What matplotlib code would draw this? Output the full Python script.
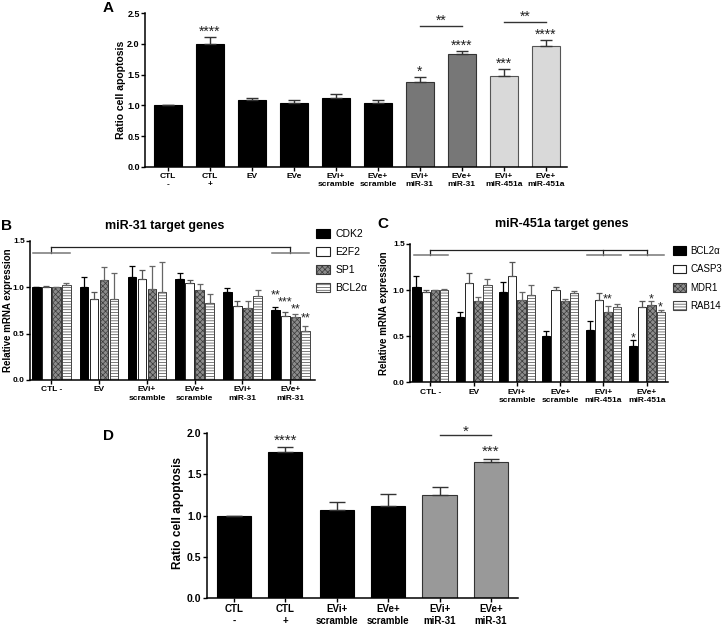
import matplotlib
matplotlib.use('Agg')
import matplotlib.pyplot as plt
import numpy as np
from matplotlib.patches import Patch

plt.rcParams['font.family'] = ['Liberation Sans', 'DejaVu Sans']
plt.rcParams['hatch.linewidth'] = 0.5

# ---------------- data ----------------
# Panel A
catA = ['CTL\n-', 'CTL\n+', 'EV', 'EVe', 'EVi+\nscramble', 'EVe+\nscramble',
        'EVi+\nmiR-31', 'EVe+\nmiR-31', 'EVi+\nmiR-451a', 'EVe+\nmiR-451a']
valA = [1.0, 2.0, 1.086, 1.037, 1.12, 1.04, 1.375, 1.83, 1.473, 1.962]
errA = [0.004, 0.11, 0.03, 0.05, 0.06, 0.05, 0.087, 0.054, 0.114, 0.098]
starsA = ['', '****', '', '', '', '', '*', '****', '***', '****']
pairsA = [(6, 7, '**', 2.296), (8, 9, '**', 2.357)]

# Panel B
catB = ['CTL -', 'EV', 'EVi+\nscramble', 'EVe+\nscramble', 'EVi+\nmiR-31', 'EVe+\nmiR-31']
genesB = ['CDK2', 'E2F2', 'SP1', 'BCL2α']
valB = {
    'CDK2':  [1.0, 1.007, 1.115, 1.094, 0.953, 0.752],
    'E2F2':  [1.0, 0.87, 1.086, 1.043, 0.802, 0.69],
    'SP1':   [1.0, 1.079, 0.986, 0.968, 0.773, 0.676],
    'BCL2α': [1.025, 0.87, 0.946, 0.827, 0.91, 0.525],
}
errB = {
    'CDK2':  [0.004, 0.10, 0.11, 0.06, 0.045, 0.032],
    'E2F2':  [0.01, 0.085, 0.10, 0.035, 0.047, 0.04],
    'SP1':   [0.006, 0.137, 0.24, 0.065, 0.075, 0.035],
    'BCL2α': [0.02, 0.28, 0.33, 0.10, 0.065, 0.055],
}
# (group, gene, label, glyph-centre height)
starsB = [(5, 'CDK2', '**', 0.96), (5, 'E2F2', '***', 0.885),
          (5, 'SP1', '**', 0.806), (5, 'BCL2α', '**', 0.715)]
bracketB = (0, [5], 1.438, 1.373)

# Panel C
catC = ['CTL -', 'EV', 'EVi+\nscramble', 'EVe+\nscramble', 'EVi+\nmiR-451a', 'EVe+\nmiR-451a']
genesC = ['BCL2α', 'CASP3', 'MDR1', 'RAB14']
valC = {
    'BCL2α': [1.033, 0.703, 0.975, 0.507, 0.569, 0.399],
    'CASP3': [0.975, 1.076, 1.156, 1.004, 0.895, 0.815],
    'MDR1':  [1.0, 0.88, 0.888, 0.877, 0.764, 0.837],
    'RAB14': [1.004, 1.054, 0.949, 0.964, 0.815, 0.76],
}
errC = {
    'BCL2α': [0.115, 0.058, 0.115, 0.05, 0.10, 0.058],
    'CASP3': [0.03, 0.11, 0.145, 0.032, 0.072, 0.062],
    'MDR1':  [0.005, 0.044, 0.09, 0.03, 0.062, 0.043],
    'RAB14': [0.005, 0.07, 0.11, 0.025, 0.033, 0.026],
}
starsC = [(4, 'MDR1', '**', 0.94), (5, 'BCL2α', '*', 0.52),
          (5, 'MDR1', '*', 0.95), (5, 'RAB14', '*', 0.86)]
bracketC = (0, [4, 5], 1.43, 1.376)

# Panel D
catD = ['CTL\n-', 'CTL\n+', 'EVi+\nscramble', 'EVe+\nscramble', 'EVi+\nmiR-31', 'EVe+\nmiR-31']
valD = [1.0, 1.772, 1.061, 1.118, 1.252, 1.646]
errD = [0.0, 0.057, 0.10, 0.14, 0.09, 0.04]
starsD = ['', '****', '', '', '', '***']
pairsD = [(4, 5, '*', 1.98)]

# ---------------- figure ----------------
W, H = 726, 625
fig = plt.figure(figsize=(W / 100, H / 100), dpi=100)


def ax_px(x0, x1, ytop, ybot):
    return fig.add_axes([x0 / W, 1 - ybot / H, (x1 - x0) / W, (ybot - ytop) / H])


def style(ax, ymax, step, xfs, yfs):
    for s in ['top', 'right']:
        ax.spines[s].set_visible(False)
    for s in ['left', 'bottom']:
        ax.spines[s].set_linewidth(1.1)
    ax.set_ylim(0, ymax)
    ax.set_yticks(np.arange(0, ymax + 1e-9, step))
    ax.set_yticklabels(['%.1f' % v for v in np.arange(0, ymax + 1e-9, step)],
                       fontsize=yfs, weight='bold')
    ax.tick_params(axis='y', direction='out', length=3, width=1, pad=0.8)
    ax.tick_params(axis='x', direction='out', length=3, width=1, pad=1.5)
    for t in ax.get_xticklabels():
        t.set_fontsize(xfs)
        t.set_fontweight('bold')
        t.set_linespacing(1.3)


def star(ax, x, yc, s, fs, color='#222'):
    ax.annotate(s, (x, yc), xytext=(0, -0.58 * fs), textcoords='offset points',
                ha='center', va='baseline', fontsize=fs, color=color,
                annotation_clip=False)


def star_above(ax, x, ytop, s, fs, gap_pts):
    ax.annotate(s, (x, ytop), xytext=(0, gap_pts - 0.58 * fs), textcoords='offset points',
                ha='center', va='baseline', fontsize=fs, color='#222',
                annotation_clip=False)


# ---------- Panel A ----------
axA = ax_px(145, 567, 13.3, 166.7)
xA = np.arange(len(catA))
colA = ['black'] * 6 + ['#777777'] * 2 + ['#d9d9d9'] * 2
edA = ['black'] * 6 + ['#333333'] * 2 + ['#555555'] * 2
axA.bar(xA, valA, width=0.668, color=colA, edgecolor=edA, linewidth=0.8,
        yerr=[np.zeros(len(valA)), errA], capsize=4.5,
        error_kw=dict(elinewidth=1.0, capthick=1.0, ecolor='#333333'))
axA.set_xlim(-0.548, 9.505)
axA.set_xticks(xA)
axA.set_xticklabels(catA)
style(axA, 2.5, 0.5, 6, 6.5)
for i, s in enumerate(starsA):
    if s:
        star_above(axA, xA[i], valA[i] + errA[i], s, 10, 6.8)
for a, b, s, y in pairsA:
    axA.plot([a, b], [y, y], color='#333333', lw=1.0, clip_on=False)
    star(axA, (a + b) / 2, y + 0.145, s, 10)
fig.text(121 / W, 1 - 90 / H, 'Ratio cell apoptosis', rotation=90, ha='center', va='center',
         fontsize=7.5, weight='bold')
fig.text(108 / W, 1 - 8 / H, 'A', ha='center', va='center', fontsize=11, weight='bold')


# ---------- grouped panels ----------
def grouped(ax, cats, genes, vals, errs, styles, step, width, stars, bracket):
    ng = len(genes)
    xg = np.arange(len(cats))
    pos = {}
    for k, g in enumerate(genes):
        xs = xg + (k - (ng - 1) / 2) * step
        pos[g] = xs
        st = styles[g]
        ax.bar(xs, vals[g], width=width, color=st['fc'], edgecolor=st['ec'],
               hatch=st.get('hatch'), linewidth=0.7,
               yerr=[np.zeros(len(cats)), errs[g]], capsize=2.2,
               error_kw=dict(elinewidth=0.9, capthick=0.9, ecolor=st['err']))
    ax.set_xticks(xg)
    ax.set_xticklabels(cats)
    for gi, g, s, yc in stars:
        star(ax, pos[g][gi], yc, s, 9)
    left, rights, ytop, ylow = bracket
    ax.plot([left, max(rights)], [ytop, ytop], color='#222222', lw=0.9, clip_on=False)
    for c in [left] + rights:
        ax.plot([c, c], [ytop, ylow], color='#222222', lw=0.9, clip_on=False)
        ax.plot([c - 0.38, c + 0.4], [ylow, ylow], color='#777777', lw=1.1, clip_on=False)
    return pos


black = dict(fc='black', ec='black', err='black')
white = dict(fc='white', ec='#222222', err='#555555')
check = dict(fc='#8c8c8c', ec='#3a3a3a', hatch='xxxxxx', err='#666666')
stripe = dict(fc='white', ec='#444444', hatch='------', err='#666666')

# ---------- Panel B ----------
axB = ax_px(30, 315, 241, 380)
stylesB = {'CDK2': black, 'E2F2': white, 'SP1': check, 'BCL2α': stripe}
grouped(axB, catB, genesB, valB, errB, stylesB, 0.21, 0.18, starsB, bracketB)
axB.set_xlim(-0.446, 5.517)
style(axB, 1.5, 0.5, 6, 6)
fig.text(8 / W, 1 - 310 / H, 'Relative mRNA expression', rotation=90, ha='center',
         va='center', fontsize=7, weight='bold')
fig.text(165 / W, 1 - 226 / H, 'miR-31 target genes', ha='center', va='center',
         fontsize=9, weight='bold')
fig.text(6 / W, 1 - 226 / H, 'B', ha='center', va='center', fontsize=11, weight='bold')
handlesB = [Patch(facecolor=stylesB[g]['fc'], edgecolor=stylesB[g]['ec'],
                  hatch=stylesB[g].get('hatch'), linewidth=0.8) for g in genesB]
axB.legend(handlesB, genesB, loc='upper left', bbox_to_anchor=(316 / W, 1 - 229 / H),
           bbox_transform=fig.transFigure, frameon=False, fontsize=7.5,
           handlelength=1.35, handleheight=0.95, handletextpad=0.5, labelspacing=0.75,
           borderaxespad=0, borderpad=0)

# ---------- Panel C ----------
axC = ax_px(410, 668, 244, 382.3)
stylesC = {'BCL2α': black, 'CASP3': white, 'MDR1': check, 'RAB14': stripe}
grouped(axC, catC, genesC, valC, errC, stylesC, 0.213, 0.19, starsC, bracketC)
axC.set_xlim(-0.469, 5.49)
style(axC, 1.5, 0.5, 6, 6)
fig.text(384 / W, 1 - 313 / H, 'Relative mRNA expression', rotation=90, ha='center',
         va='center', fontsize=7, weight='bold')
fig.text(562 / W, 1 - 224 / H, 'miR-451a target genes', ha='center', va='center',
         fontsize=9, weight='bold')
fig.text(383 / W, 1 - 224 / H, 'C', ha='center', va='center', fontsize=11, weight='bold')
handlesC = [Patch(facecolor=stylesC[g]['fc'], edgecolor=stylesC[g]['ec'],
                  hatch=stylesC[g].get('hatch'), linewidth=0.8) for g in genesC]
axC.legend(handlesC, genesC, loc='upper left', bbox_to_anchor=(673 / W, 1 - 246 / H),
           bbox_transform=fig.transFigure, frameon=False, fontsize=7,
           handlelength=1.3, handleheight=1.0, handletextpad=0.45, labelspacing=0.85,
           borderaxespad=0, borderpad=0)

# ---------- Panel D ----------
axD = ax_px(206.7, 517.7, 433.3, 597.7)
xD = np.arange(len(catD))
colD = ['black'] * 4 + ['#999999'] * 2
edD = ['black'] * 4 + ['#333333'] * 2
axD.bar(xD, valD, width=0.667, color=colD, edgecolor=edD, linewidth=0.8,
        yerr=[np.zeros(len(valD)), errD], capsize=5.5,
        error_kw=dict(elinewidth=1.0, capthick=1.0, ecolor='#333333'))
axD.set_xlim(-0.527, 5.519)
axD.set_xticks(xD)
axD.set_xticklabels(catD)
style(axD, 2.0, 0.5, 7, 7.5)
for i, s in enumerate(starsD):
    if s:
        star_above(axD, xD[i], valD[i] + errD[i], s, 11, 8.5)
for a, b, s, y in pairsD:
    axD.plot([a, b], [y, y], color='#333333', lw=1.0, clip_on=False)
    star(axD, (a + b) / 2, y + 0.095, s, 11)
fig.text(178 / W, 1 - 513 / H, 'Ratio cell apoptosis', rotation=90, ha='center',
         va='center', fontsize=8.5, weight='bold')
fig.text(108 / W, 1 - 436 / H, 'D', ha='center', va='center', fontsize=11, weight='bold')

fig.savefig('out.png', dpi=100)
